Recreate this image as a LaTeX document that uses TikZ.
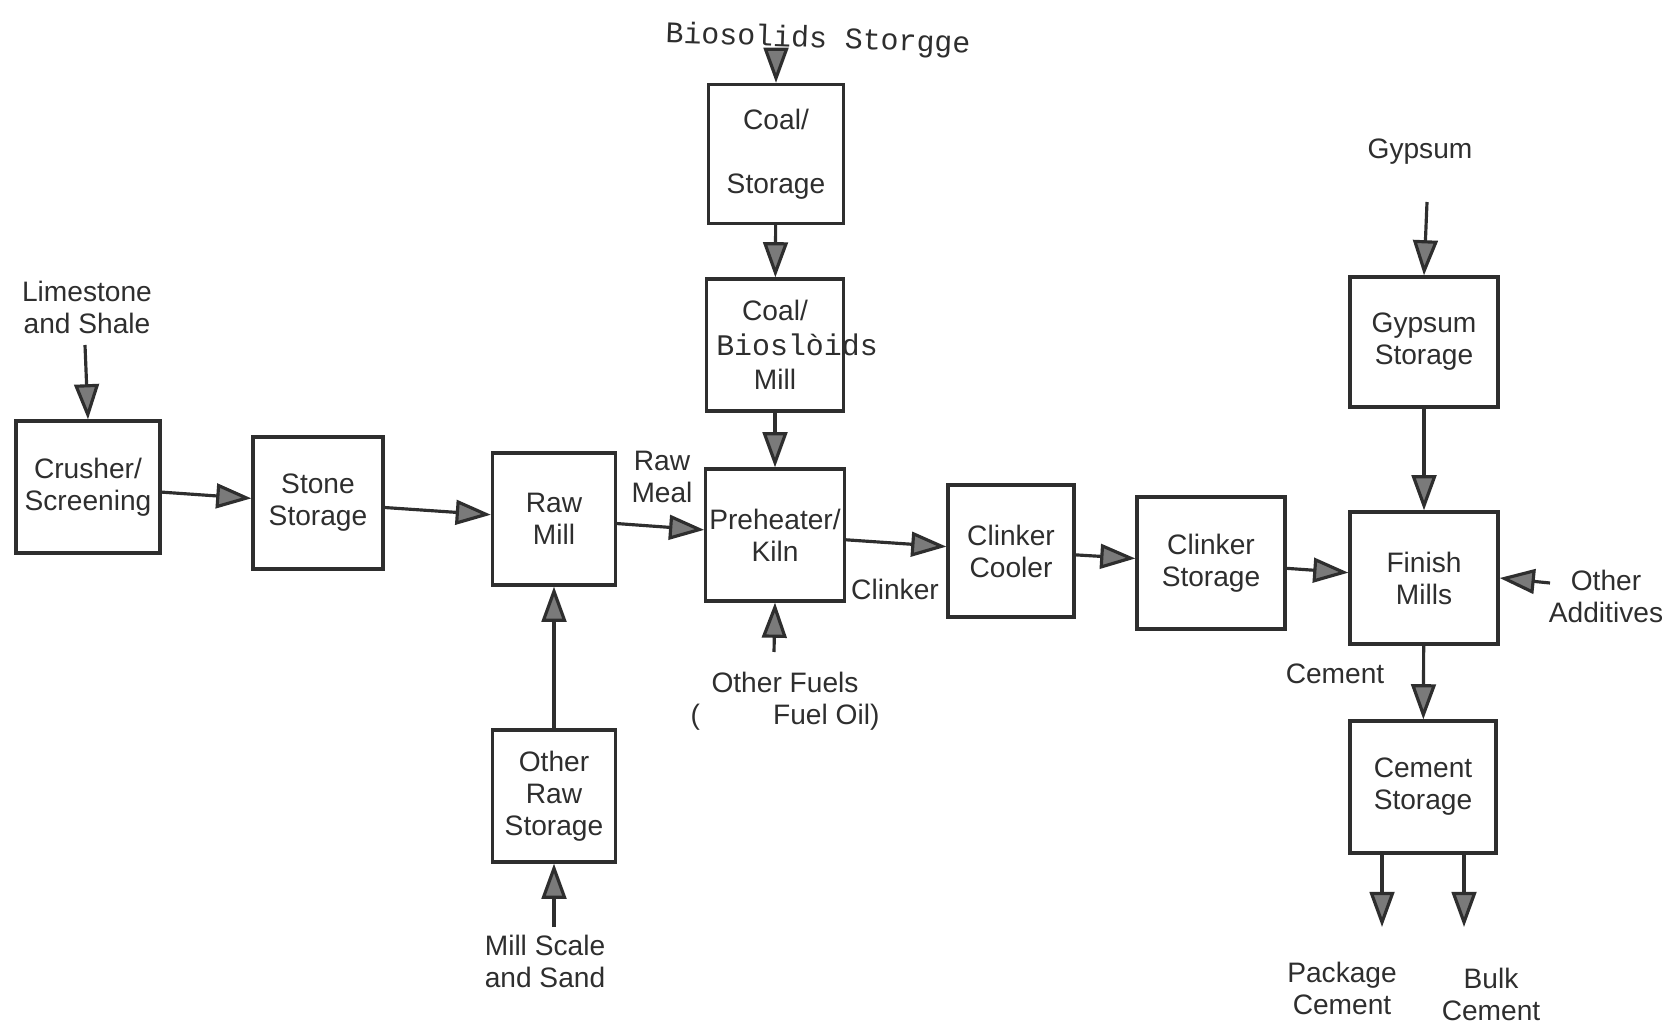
\documentclass[tikz,border=0pt]{standalone}
\usepackage{fontspec}
\setmainfont{Liberation Sans}
\newfontfamily\typefont{Liberation Mono}
\usetikzlibrary{arrows.meta}
\definecolor{Ink}{HTML}{2E2E2E}
\definecolor{Head}{HTML}{7A7A7A}

\begin{document}
\begin{tikzpicture}[x=0.01cm,y=-0.01cm,
  box/.style={draw=Ink,line width=0.9pt,minimum height=1.32cm,align=center,
    text=Ink,font=\fontsize{8}{9.1}\selectfont,inner sep=1pt},
  lbl/.style={align=center,text=Ink,font=\fontsize{8}{9.1}\selectfont,inner sep=1pt},
  typed/.style={text=Ink,font=\fontsize{8.5}{10}\typefont,inner sep=0pt},
  flow/.style={draw=Ink,line width=0.9pt,-{Triangle[length=10pt,width=7pt,fill=Head]}}]
  \useasboundingbox (0,0) rectangle (1670,1028);
  % main line
  \node[box,minimum width=1.44cm] (crush)  at (88,487)   {Crusher/\\Screening};
  \node[box,minimum width=1.30cm] (stone)  at (318,503)  {Stone\\Storage};
  \node[box,minimum width=1.23cm] (rawmill) at (554,519) {Raw\\Mill};
  \node[box,minimum width=1.37cm] (kiln)   at (775,535)  {Preheater/\\Kiln};
  \node[box,minimum width=1.26cm] (cooler) at (1011,551) {Clinker\\Cooler};
  \node[box,minimum width=1.48cm] (clstore) at (1211,563) {Clinker\\Storage};
  \node[box,minimum width=1.48cm] (finish) at (1424,578) {Finish\\Mills};
  % side branches
  \node[box,minimum width=1.35cm,minimum height=1.39cm] (coalstore) at (776,154) {Coal/\\[9.1pt]Storage};
  \node[box,minimum width=1.37cm] (coalmill) at (775,345) {Coal/\\[10.5pt]Mill};
  \node[typed] (bioover) at (797,345) {Bioslòids};
  \node[box,minimum width=1.48cm,minimum height=1.30cm] (gypstore) at (1424,342) {Gypsum\\Storage};
  \node[box,minimum width=1.46cm] (cemstore) at (1423,787) {Cement\\Storage};
  \node[box,minimum width=1.23cm] (othraw) at (554,796) {Other\\Raw\\Storage};
  % free labels
  \node[typed,rotate=-2] (biostore) at (818,40) {Biosolids Storgge};
  \node[lbl] (lime) at (87,307) {Limestone\\and Shale};
  \node[lbl] (gyp) at (1420,152) {Gypsum};
  \node[lbl] (rawmeal) at (662,477) {Raw\\Meal};
  \node[lbl] (clinker) at (895,589) {Clinker};
  \node[lbl] (fuels) at (785,701) {Other Fuels\\(\hspace{2.6em}Fuel Oil)};
  \node[lbl] (scale) at (545,961) {Mill Scale\\and Sand};
  \node[lbl] (cement) at (1335,674) {Cement};
  \node[lbl] (addit) at (1606,596) {Other\\Additives};
  \node[lbl] (pkg) at (1342,988) {Package\\Cement};
  \node[lbl] (bulk) at (1491,994) {Bulk\\Cement};
  % loose ends
  \coordinate (limeEnd) at (85,345);
  \coordinate (bioEnd) at (776,48);
  \coordinate (gypEnd) at (1427,202);
  \coordinate (fuelEnd) at (774,652);
  \coordinate (scaleEnd) at (554,927);
  \coordinate (additEnd) at (1550,583);
  \coordinate (pkgEnd) at (1382,927);
  \coordinate (bulkEnd) at (1464,927);
  % flows
  \foreach \a/\b in {crush/stone,stone/rawmill,rawmill/kiln,kiln/cooler,
      cooler/clstore,clstore/finish,coalstore/coalmill,coalmill/kiln,
      gypstore/finish,finish/cemstore,othraw/rawmill}
    \draw[flow] (\a) -- (\b);
  \draw[flow] (limeEnd) -- (crush.north);
  \draw[flow] (bioEnd) -- (coalstore.north);
  \draw[flow] (gypEnd) -- (gypstore.north);
  \draw[flow] (fuelEnd) -- (kiln.south);
  \draw[flow] (scaleEnd) -- (othraw.south);
  \draw[flow] (additEnd) -- (finish.east);
  \draw[flow] (cemstore.south -| pkgEnd) -- (pkgEnd);
  \draw[flow] (cemstore.south -| bulkEnd) -- (bulkEnd);
\end{tikzpicture}
\end{document}
